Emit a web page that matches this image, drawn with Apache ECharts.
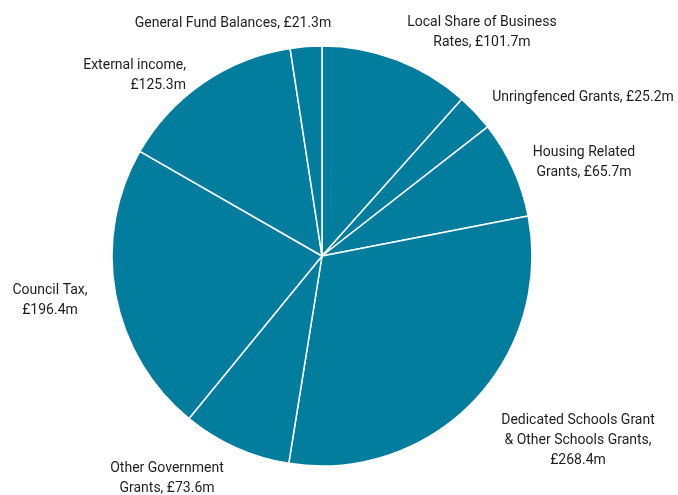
<!DOCTYPE html>
<html><head><meta charset="utf-8">
<script src="https://cdn.jsdelivr.net/npm/echarts@6/dist/echarts.min.js"></script>
<style>html,body{margin:0;padding:0;background:#fff}#c{width:678px;height:495px}</style>
</head><body><div id="c"></div>
<script>
const categories = [
  "Local Share of Business Rates",
  "Unringfenced Grants",
  "Housing Related Grants",
  "Dedicated Schools Grant & Other Schools Grants",
  "Other Government Grants",
  "Council Tax",
  "External income",
  "General Fund Balances"
];
const labelTexts = [
  "Local Share of Business\nRates, £101.7m",
  "Unringfenced Grants, £25.2m",
  "Housing Related\nGrants, £65.7m",
  "Dedicated Schools Grant\n& Other Schools Grants,\n£268.4m",
  "Other Government\nGrants, £73.6m",
  "Council Tax,\n£196.4m",
  "External income,\n£125.3m",
  "General Fund Balances, £21.3m"
];
const values = [101.7, 25.2, 65.7, 268.4, 73.6, 196.4, 125.3, 21.3];

// label anchor layout (centre x, centre y, alignment)
const labelPos = [
  {x: 482, y: 32, align: 'center'},
  {x: 583, y: 97, align: 'center'},
  {x: 584, y: 162, align: 'center'},
  {x: 578, y: 440, align: 'center'},
  {x: 167, y: 478, align: 'center'},
  {x: 50, y: 300, align: 'center'},
  {x: 186, y: 75, align: 'right'},
  {x: 233, y: 23, align: 'center'}
];

const chart = echarts.init(document.getElementById('c'), null, {renderer: 'canvas'});
chart.setOption({
  animation: false,
  series: [{
    type: 'pie',
    center: [322, 256],
    radius: [0, 210],
    startAngle: 90,
    clockwise: true,
    avoidLabelOverlap: false,
    itemStyle: {color: '#037d9e', borderColor: '#ffffff', borderWidth: 1.5},
    label: {
      show: true,
      position: 'outside',
      formatter: p => labelTexts[p.dataIndex],
      color: '#1e1e1e',
      fontFamily: 'Roboto, sans-serif',
      fontSize: 14,
      lineHeight: 20,
      align: 'center'
    },
    labelLine: {show: false},
    labelLayout: p => {
      const l = labelPos[p.dataIndex];
      return {x: l.x, y: l.y, align: l.align, verticalAlign: 'middle'};
    },
    data: categories.map((c, i) => ({name: c, value: values[i]}))
  }]
});
</script></body></html>
